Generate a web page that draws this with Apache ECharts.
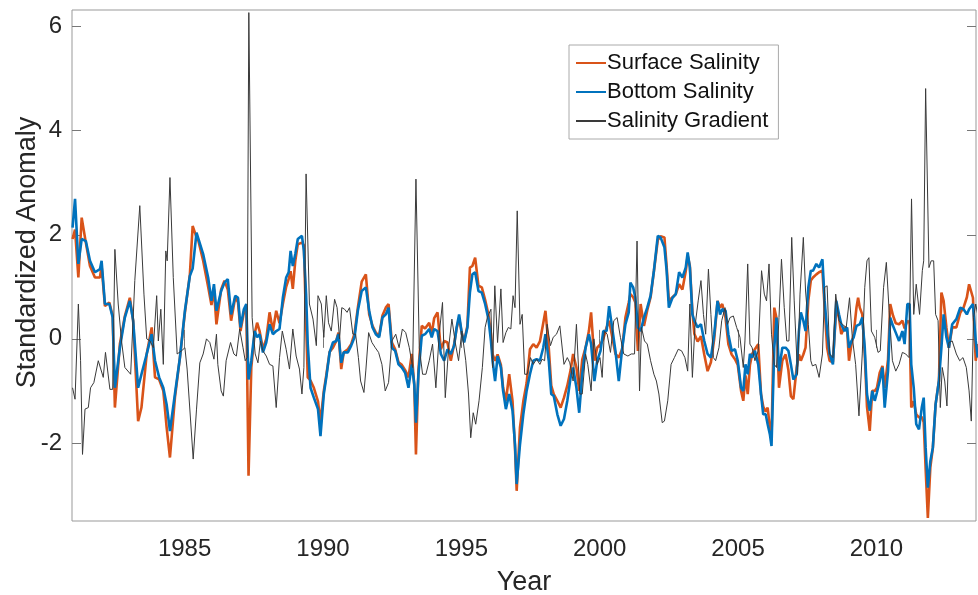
<!DOCTYPE html>
<html>
<head>
<meta charset="utf-8">
<script src="https://cdn.jsdelivr.net/npm/echarts@6/dist/echarts.min.js"></script>
<style>
  html, body { margin: 0; padding: 0; background: #fff; }
  #chart { width: 978px; height: 595px; }
</style>
</head>
<body>
<div id="chart"></div>
<script>
// sample times (decimal year) shared by surface & bottom salinity
const salYears = [
  1980.95, 1981.04, 1981.16, 1981.28, 1981.43, 1981.58, 1981.76, 1981.94, 1982.00, 1982.12, 1982.28, 1982.40, 1982.48, 1982.66, 1982.84, 1983.02, 1983.14, 1983.32, 1983.44, 1983.63, 1983.81, 1983.93, 1984.08, 1984.23, 1984.35, 1984.47, 1984.65, 1984.83, 1985.01, 1985.19, 1985.29, 1985.43, 1985.49, 1985.67, 1985.85, 1985.97, 1986.06, 1986.15,
  1986.20, 1986.32, 1986.44, 1986.56, 1986.68, 1986.83, 1986.93, 1987.02, 1987.14, 1987.23, 1987.31, 1987.41, 1987.53, 1987.62, 1987.71, 1987.83, 1987.95, 1988.07, 1988.19, 1988.31, 1988.43, 1988.55, 1988.67, 1988.76, 1988.83, 1988.91, 1989.00, 1989.09, 1989.24, 1989.31, 1989.39, 1989.45, 1989.55, 1989.67, 1989.82, 1989.91, 1990.03, 1990.12, 1990.24, 1990.36, 1990.48, 1990.56, 1990.66, 1990.75, 1990.90, 1991.02, 1991.14, 1991.26, 1991.40,
  1991.55, 1991.67, 1991.79, 1991.91, 1992.03, 1992.15, 1992.27, 1992.37, 1992.49, 1992.61, 1992.73, 1992.85, 1992.97, 1993.09, 1993.21, 1993.30, 1993.36, 1993.45, 1993.57, 1993.69, 1993.84, 1993.93, 1994.02, 1994.14, 1994.26, 1994.38, 1994.50, 1994.62, 1994.74, 1994.83, 1994.92, 1995.02, 1995.10, 1995.22, 1995.31, 1995.40, 1995.50, 1995.62, 1995.74, 1995.86, 1995.98, 1996.07, 1996.13, 1996.22, 1996.31, 1996.43, 1996.51, 1996.61, 1996.73, 1996.85, 1996.94,
  1997.00, 1997.12, 1997.24, 1997.36, 1997.48, 1997.60, 1997.72, 1997.84, 1997.96, 1998.04, 1998.16, 1998.25, 1998.34, 1998.47, 1998.59, 1998.71, 1998.83, 1998.95, 1999.04, 1999.16, 1999.26, 1999.37, 1999.49, 1999.61, 1999.69, 1999.81, 1999.91, 2000.03, 2000.13, 2000.25, 2000.34, 2000.45, 2000.57, 2000.69, 2000.81, 2000.93, 2001.05, 2001.11, 2001.21, 2001.29, 2001.38, 2001.48, 2001.60, 2001.72, 2001.84, 2001.96, 2002.10, 2002.20,
  2002.34, 2002.42, 2002.50, 2002.63, 2002.75, 2002.87, 2002.99, 2003.11, 2003.18, 2003.26, 2003.35, 2003.42, 2003.54, 2003.66, 2003.78, 2003.90, 2004.02, 2004.14, 2004.26, 2004.35, 2004.43, 2004.55, 2004.65, 2004.77, 2004.89, 2004.99, 2005.11, 2005.19, 2005.27, 2005.35, 2005.43, 2005.51, 2005.61, 2005.73, 2005.83, 2005.91, 2006.00, 2006.07, 2006.15, 2006.21, 2006.31, 2006.39, 2006.48, 2006.60, 2006.72, 2006.82, 2006.91, 2007.00, 2007.12, 2007.20, 2007.27, 2007.36, 2007.44, 2007.54, 2007.63,
  2007.71, 2007.83, 2007.93, 2008.05, 2008.13, 2008.22, 2008.31, 2008.43, 2008.55, 2008.65, 2008.73, 2008.85, 2008.94, 2009.01, 2009.10, 2009.18, 2009.28, 2009.34, 2009.40, 2009.49, 2009.58, 2009.66, 2009.76, 2009.85, 2009.94, 2010.02, 2010.12, 2010.22, 2010.30, 2010.42, 2010.50, 2010.60, 2010.70, 2010.82, 2010.94, 2011.02, 2011.12, 2011.20, 2011.26, 2011.35, 2011.44, 2011.54, 2011.64, 2011.71, 2011.78, 2011.86, 2011.95, 2012.04, 2012.14, 2012.26, 2012.35, 2012.43, 2012.53, 2012.62, 2012.74, 2012.89, 2013.03, 2013.15, 2013.27, 2013.35, 2013.49, 2013.59, 2013.66
];

const surfaceSal = [
  1.92, 2.10, 1.18, 2.33, 1.85, 1.40, 1.18, 1.18, 1.40, 0.63, 0.70, 0.44, -1.32, -0.10, 0.44, 0.79, 0.35, -1.58, -1.32, -0.29, 0.22, -0.74, -0.78, -1.00, -1.70, -2.28, -1.13, -0.36, 0.50, 1.24, 2.17, 1.95, 1.90, 1.50, 1.00, 0.65, 0.95, 0.28,
  0.30, 0.95, 1.12, 0.95, 0.35, 0.80, 0.70, 0.15, 0.50, 0.60, -2.63, -0.55, 0.10, 0.31, 0.15, -0.20, 0.00, 0.51, 0.15, 0.54, 0.30, 0.67, 1.00, 1.15, 1.30, 0.96, 1.50, 1.82, 1.85, 1.80, 0.30, -0.74, -0.80, -0.94, -1.20, -1.60, -1.00, -0.70, -0.25, -0.17, -0.04, 0.12, -0.58, -0.26, -0.20, -0.10, 0.10, 0.60, 1.10,
  1.24, 0.47, 0.25, 0.12, 0.06, 0.45, 0.60, 0.67, -0.07, -0.20, -0.45, -0.50, -0.60, -0.74, -0.29, -0.90, -2.22, -0.60, 0.25, 0.20, 0.31, 0.10, 0.40, 0.51, -0.20, -0.04, -0.07, -0.42, -0.10, 0.20, 0.40, 0.10, -0.05, 0.25, 1.37, 1.40, 1.56, 1.02, 0.99, 0.75, 0.47, 0.10, -0.30, -0.42, -0.30, -0.50, -0.94, -1.20, -0.68, -1.19, -2.10,
  -2.92, -1.70, -1.20, -0.85, -0.20, -0.10, -0.17, -0.05, 0.30, 0.54, -0.17, -0.90, -1.06, -1.19, -1.32, -1.13, -0.90, -0.60, -0.29, -0.55, -1.00, -0.40, -0.17, 0.15, 0.51, -0.42, -0.17, -0.10, 0.00, 0.22, 0.35, 0.05, -0.29, -0.36, -0.20, 0.41, 0.70, 0.86, 0.80, 0.70, -0.23, 0.67, 0.25, 0.55, 0.80, 1.30, 1.90, 1.97,
  1.95, 1.40, 0.73, 0.80, 0.86, 1.05, 0.95, 1.30, 1.60, 1.40, 0.54, 0.10, -0.05, 0.05, -0.30, -0.62, -0.45, 0.00, 0.73, 0.60, 0.67, 0.40, -0.10, -0.30, -0.39, -0.50, -1.00, -1.19, -0.70, -1.06, -0.50, -0.29, -0.20, -0.10, -1.06, -1.30, -1.40, -1.32, -1.70, -1.90, 0.60, 0.40, -0.94, -0.42, -0.30, -0.60, -1.10, -1.16, -0.55, -0.30, -0.42, -0.30, -0.17, 0.73, 1.12,
  1.18, 1.24, 1.28, 1.31, 0.60, -0.17, -0.42, -0.45, 0.60, 0.40, 0.09, 0.22, 0.20, -0.42, -0.10, 0.10, 0.60, 0.79, 0.60, 0.47, -0.30, -1.30, -1.77, -1.00, -1.00, -0.94, -0.65, -0.52, -0.94, -0.40, 0.67, 0.45, 0.30, 0.28, 0.35, 0.20, 0.35, 0.30, -1.32, -1.20, -1.45, -1.51, -1.50, -1.60, -2.50, -3.44, -2.47, -2.10, -1.26, -0.80, 0.89, 0.73, 0.22, -0.17, 0.22, 0.22, 0.50, 0.60, 0.80, 1.05, 0.79, -0.42, -0.10
];

const bottomSal = [
  2.14, 2.69, 1.44, 1.92, 1.88, 1.50, 1.28, 1.34, 1.50, 0.67, 0.67, 0.41, -0.94, -0.17, 0.41, 0.73, 0.35, -0.94, -0.68, -0.29, 0.09, -0.42, -0.74, -0.94, -1.26, -1.77, -1.06, -0.36, 0.54, 1.21, 1.35, 2.04, 2.01, 1.63, 1.18, 0.73, 1.05, 0.54,
  0.51, 0.92, 1.08, 1.15, 0.47, 0.83, 0.79, 0.22, 0.57, 0.67, -0.78, -0.42, 0.15, 0.03, 0.09, -0.26, -0.07, 0.28, 0.09, 0.15, 0.19, 0.79, 1.18, 1.28, 1.69, 1.40, 1.63, 1.92, 1.98, 1.69, 0.86, -0.10, -0.94, -1.13, -1.35, -1.87, -1.06, -0.74, -0.26, -0.07, -0.04, 0.09, -0.46, -0.26, -0.26, -0.13, 0.03, 0.54, 0.92,
  0.99, 0.54, 0.22, 0.09, 0.03, 0.41, 0.47, 0.60, -0.17, -0.23, -0.49, -0.55, -0.65, -0.94, -0.49, -0.87, -1.61, -0.68, 0.06, 0.09, 0.19, 0.03, 0.19, 0.15, -0.29, -0.42, -0.20, -0.29, -0.13, 0.22, 0.47, 0.09, -0.07, 0.22, 0.89, 1.24, 1.28, 0.92, 0.89, 0.67, 0.38, -0.04, -0.42, -0.81, -0.33, -0.55, -1.00, -1.35, -1.06, -1.38, -2.03,
  -2.79, -2.03, -1.45, -1.00, -0.68, -0.42, -0.39, -0.42, -0.17, 0.09, -0.42, -1.06, -1.10, -1.45, -1.67, -1.54, -1.19, -0.74, -0.55, -0.94, -1.42, -0.68, -0.17, 0.09, -0.10, -0.81, -0.42, -0.23, 0.15, 0.15, 0.63, 0.22, -0.23, -0.81, -0.20, 0.28, 0.51, 1.08, 0.99, 0.79, 0.22, 0.15, 0.41, 0.60, 0.83, 1.31, 1.98, 1.95,
  1.76, 1.31, 0.60, 0.79, 0.86, 1.28, 1.18, 1.37, 1.66, 1.37, 0.47, 0.35, 0.22, 0.28, -0.04, -0.29, -0.36, 0.09, 0.73, 0.47, 0.57, 0.54, 0.09, -0.23, -0.20, -0.42, -0.94, -1.00, -0.49, -0.68, -0.29, -0.36, -0.23, -0.49, -1.06, -1.45, -1.45, -1.64, -1.83, -2.06, -0.17, 0.41, -0.62, -0.17, -0.17, -0.23, -0.49, -0.78, -0.68, 0.15, 0.51, 0.35, 0.15, 0.99, 1.31,
  1.31, 1.44, 1.37, 1.53, 0.73, 0.15, -0.29, -0.49, 0.73, 0.47, 0.28, 0.15, 0.22, -0.17, -0.04, 0.03, 0.25, 0.28, 0.28, 0.41, -0.17, -1.06, -1.38, -1.00, -1.19, -1.03, -0.81, -0.55, -1.32, -0.62, 0.41, 0.25, 0.12, -0.04, 0.15, -0.10, 0.67, 0.67, -0.49, -0.94, -1.64, -1.74, -1.32, -1.13, -2.09, -2.86, -2.35, -2.09, -1.26, -0.81, -0.17, 0.47, 0.03, -0.17, 0.28, 0.38, 0.60, 0.57, 0.47, 0.57, 0.67, -0.04, -0.36
];

// salinity gradient has its own sample times
const gradYears = [
  1980.95, 1981.04, 1981.16, 1981.24, 1981.31, 1981.40, 1981.52, 1981.60, 1981.72, 1981.88, 1982.06, 1982.14, 1982.30, 1982.40, 1982.48, 1982.60, 1982.72, 1982.84, 1983.05, 1983.20, 1983.38, 1983.53, 1983.63, 1983.75, 1983.87, 1983.99, 1984.05, 1984.14, 1984.23, 1984.32, 1984.37, 1984.47, 1984.59, 1984.73, 1984.89, 1985.01, 1985.09, 1985.31, 1985.43, 1985.55, 1985.67, 1985.79, 1985.91, 1986.06, 1986.15,
  1986.20, 1986.32, 1986.40, 1986.50, 1986.66, 1986.78, 1986.87, 1986.99, 1987.11, 1987.19, 1987.26, 1987.32, 1987.44, 1987.55, 1987.65, 1987.74, 1987.83, 1987.95, 1988.07, 1988.19, 1988.31, 1988.43, 1988.53, 1988.67, 1988.79, 1988.91, 1989.03, 1989.15, 1989.24, 1989.31, 1989.39, 1989.51, 1989.64, 1989.76, 1989.82, 1989.94, 1990.03, 1990.12, 1990.20, 1990.30, 1990.42, 1990.51, 1990.60, 1990.68, 1990.78, 1990.87, 1990.96, 1991.08, 1991.18, 1991.28, 1991.36, 1991.48, 1991.55,
  1991.65, 1991.77, 1991.89, 1992.01, 1992.13, 1992.25, 1992.37, 1992.49, 1992.63, 1992.75, 1992.87, 1992.99, 1993.12, 1993.24, 1993.36, 1993.48, 1993.60, 1993.72, 1993.84, 1993.96, 1994.08, 1994.20, 1994.32, 1994.42, 1994.54, 1994.66, 1994.78, 1994.90, 1995.02, 1995.16, 1995.26, 1995.34, 1995.43, 1995.52, 1995.64, 1995.76, 1995.86, 1995.94, 1996.07, 1996.13, 1996.21, 1996.31, 1996.43, 1996.51, 1996.61, 1996.70, 1996.79, 1996.87, 1996.94,
  1997.02, 1997.12, 1997.20, 1997.29, 1997.38, 1997.50, 1997.60, 1997.72, 1997.84, 1997.92, 1998.01, 1998.10, 1998.22, 1998.32, 1998.44, 1998.56, 1998.71, 1998.83, 1998.92, 1999.04, 1999.16, 1999.28, 1999.37, 1999.49, 1999.57, 1999.69, 1999.79, 1999.91, 2000.01, 2000.09, 2000.17, 2000.27, 2000.39, 2000.51, 2000.63, 2000.75, 2000.87, 2001.02, 2001.14, 2001.26, 2001.35, 2001.44, 2001.51, 2001.62, 2001.72, 2001.84, 2001.96, 2002.05, 2002.14, 2002.26,
  2002.34, 2002.46, 2002.58, 2002.70, 2002.84, 2002.96, 2003.08, 2003.18, 2003.26, 2003.35, 2003.44, 2003.56, 2003.66, 2003.75, 2003.83, 2003.93, 2004.02, 2004.11, 2004.19, 2004.31, 2004.41, 2004.53, 2004.62, 2004.71, 2004.83, 2004.95, 2005.07, 2005.19, 2005.25, 2005.35, 2005.43, 2005.51, 2005.61, 2005.73, 2005.85, 2005.95, 2006.03, 2006.12, 2006.21, 2006.31, 2006.39, 2006.48, 2006.57, 2006.67, 2006.76, 2006.84, 2006.94, 2007.03, 2007.15, 2007.24, 2007.36, 2007.44, 2007.54, 2007.63,
  2007.69, 2007.81, 2007.93, 2008.05, 2008.13, 2008.22, 2008.31, 2008.43, 2008.53, 2008.65, 2008.77, 2008.91, 2009.03, 2009.13, 2009.25, 2009.37, 2009.49, 2009.58, 2009.66, 2009.73, 2009.82, 2009.94, 2010.06, 2010.14, 2010.26, 2010.36, 2010.46, 2010.58, 2010.70, 2010.82, 2010.94, 2011.06, 2011.18, 2011.27, 2011.35, 2011.44, 2011.56, 2011.66, 2011.71, 2011.78, 2011.90, 2011.98, 2012.07, 2012.14, 2012.23, 2012.31, 2012.38, 2012.47, 2012.55, 2012.62, 2012.74, 2012.89, 2013.01, 2013.13, 2013.25, 2013.35, 2013.43, 2013.51, 2013.59, 2013.66
];

const gradVals = [
  -0.94, -1.16, 0.67, -0.42, -2.22, -1.35, -1.32, -0.94, -0.84, -0.42, -0.74, -0.26, -0.97, -0.97, 1.72, 0.67, -0.04, -0.55, -0.68, 1.12, 2.56, 0.86, 0.00, -0.04, -0.17, 0.83, -0.04, 0.57, -0.49, 1.69, 1.50, 3.10, 1.18, -0.29, -0.23, -0.17, -0.58, -2.31, -1.35, -0.46, -0.29, 0.00, -0.07, -0.39, 0.09,
  -0.49, -1.00, -1.10, -0.42, -0.07, -0.29, -0.33, 0.19, -0.17, -0.42, -0.36, 6.27, 0.41, -0.29, -0.46, -0.04, -0.23, -0.33, -0.49, -0.52, -1.32, -0.36, 0.15, -0.20, -0.58, 0.19, -0.33, -0.58, -1.06, -0.55, 3.17, 0.67, 0.38, -0.13, 0.83, 0.67, 0.03, 0.83, 0.31, 0.15, 0.76, 0.60, 0.00, 0.60, 0.57, 0.51, 0.60, 0.09, 0.09, -0.36, -0.81, -1.03, -0.60,
  0.12, -0.07, -0.17, -0.26, -0.49, -1.00, -0.84, -0.04, 0.09, -0.17, 0.19, 0.12, -0.17, -0.55, 3.07, -0.17, -0.68, -0.68, -0.42, -0.10, -0.94, 0.09, 0.70, -1.13, -0.17, 0.38, -0.07, -0.42, 0.15, -0.42, -1.06, -1.90, -1.42, -1.64, -1.19, -0.55, 0.22, 0.41, 0.57, -0.55, 1.02, -0.07, 0.96, -0.07, 0.12, 0.22, 0.19, 0.83, 0.60,
  2.46, 0.28, 0.47, -0.68, -0.68, -0.36, -0.49, -0.39, -0.49, -0.39, -0.42, 0.28, -0.13, 0.03, 0.09, 0.25, -0.49, -0.36, -0.46, -0.81, 0.28, -1.06, -1.06, -0.29, -0.49, -1.00, 0.00, -0.49, -0.36, -0.74, 0.15, 0.09, -0.26, 0.35, 0.41, 0.03, -0.29, -0.33, -0.29, -0.29, 1.88, -1.00, 0.22, -0.04, -0.10, -0.42, -0.68, -0.81, -1.06, -1.61,
  -1.58, -1.19, -0.49, -0.36, -0.20, -0.23, -0.36, -0.62, 0.67, -0.74, 0.22, 0.73, 1.12, 0.47, 0.09, 1.34, 0.47, -0.36, -0.42, -0.17, 0.35, 0.60, 0.28, 0.41, 0.44, 0.22, 0.03, -0.55, -0.04, 1.44, -0.10, -0.17, -0.42, -0.23, 1.31, 0.86, 0.73, 1.44, 0.09, -0.49, -0.55, 0.41, 1.53, 0.60, -0.04, -0.04, 1.95, 0.73, -0.68, 0.86, 1.95, 0.92, 0.28, -0.42,
  -0.52, -0.49, -0.74, -0.29, 0.99, 1.02, -0.29, -0.36, 0.86, 0.35, 0.28, 0.22, 0.79, 0.03, -0.49, -1.48, -0.29, 0.99, 1.50, 1.56, 0.15, 0.03, -0.26, -0.23, 0.99, 1.47, 0.54, -0.42, -0.62, -0.49, -0.26, -0.29, -0.36, 2.69, 0.47, 1.05, 0.47, 1.31, 1.50, 4.81, 1.37, 1.50, 1.50, 0.47, 0.35, -1.32, -0.55, -0.81, -1.29, -0.07, -0.04, -0.29, -0.42, -0.36, -0.55, -1.00, -1.58, 0.41, 0.67, 0.47
];

const yearTicks = [1985, 1990, 1995, 2000, 2005, 2010];
const anomalyTicks = [-2, 0, 2, 4, 6];

const zip = (xs, ys) => xs.map((x, i) => [x, ys[i]]);

const font = "'Liberation Sans', Arial, sans-serif";
const tickStyle = { fontSize: 24, color: '#262626', fontFamily: font };

const chart = echarts.init(document.getElementById('chart'), null, { renderer: 'canvas' });

chart.setOption({
  animation: false,
  backgroundColor: '#fff',
  grid: {
    left: 72, right: 2, top: 10, bottom: 74,
    outerBoundsMode: 'none', containLabel: false,
    show: true, borderColor: '#999', borderWidth: 1
  },
  legend: {
    orient: 'vertical',
    left: 569, top: 45,
    padding: [7, 10, 7, 6],
    itemGap: 7,
    itemWidth: 30, itemHeight: 22,
    borderColor: '#aaa', borderWidth: 1,
    backgroundColor: '#fff',
    itemStyle: { opacity: 0 },
    textStyle: { fontSize: 22, color: '#111', fontFamily: font, padding: [0, 0, 0, -4] },
    data: ['Surface Salinity', 'Bottom Salinity', 'Salinity Gradient']
  },
  xAxis: [{
    type: 'value',
    min: 1980.93, max: 2013.6,
    name: 'Year', nameLocation: 'middle', nameGap: 48, nameMoveOverlap: false,
    nameTextStyle: { fontSize: 27, color: '#262626', fontFamily: font },
    axisLine: { show: false },
    axisTick: { inside: true, length: 9, lineStyle: { color: '#777' }, customValues: yearTicks },
    axisLabel: Object.assign({ margin: 16, customValues: yearTicks, formatter: v => String(v) }, tickStyle),
    splitLine: { show: false }
  }, {
    type: 'value', position: 'top',
    min: 1980.93, max: 2013.6,
    axisLine: { show: false },
    axisTick: { inside: true, length: 9, lineStyle: { color: '#777' }, customValues: yearTicks },
    axisLabel: { show: false },
    splitLine: { show: false }
  }],
  yAxis: [{
    type: 'value',
    min: -3.5, max: 6.32,
    name: 'Standardized Anomaly', nameLocation: 'middle', nameGap: 31, nameMoveOverlap: false,
    nameTextStyle: { fontSize: 27, color: '#262626', fontFamily: font, padding: [0, 0, 0, 26] },
    axisLine: { show: false },
    axisTick: { inside: true, length: 9, lineStyle: { color: '#777' }, customValues: anomalyTicks },
    axisLabel: Object.assign({ margin: 10, customValues: anomalyTicks }, tickStyle),
    splitLine: { show: false }
  }, {
    type: 'value', position: 'right',
    min: -3.5, max: 6.32,
    axisLine: { show: false },
    axisTick: { inside: true, length: 9, lineStyle: { color: '#777' }, customValues: anomalyTicks },
    axisLabel: { show: false },
    splitLine: { show: false }
  }],
  series: [
    {
      name: 'Surface Salinity', type: 'line', symbol: 'none',
      data: zip(salYears, surfaceSal),
      lineStyle: { color: '#D95319', width: 2.6 }, itemStyle: { color: '#D95319' }
    },
    {
      name: 'Bottom Salinity', type: 'line', symbol: 'none',
      data: zip(salYears, bottomSal),
      lineStyle: { color: '#0072BD', width: 2.6 }, itemStyle: { color: '#0072BD' }
    },
    {
      name: 'Salinity Gradient', type: 'line', symbol: 'none',
      data: zip(gradYears, gradVals),
      lineStyle: { color: '#3a3a3a', width: 1 }, itemStyle: { color: '#3a3a3a' }
    }
  ]
});
</script>
</body>
</html>
